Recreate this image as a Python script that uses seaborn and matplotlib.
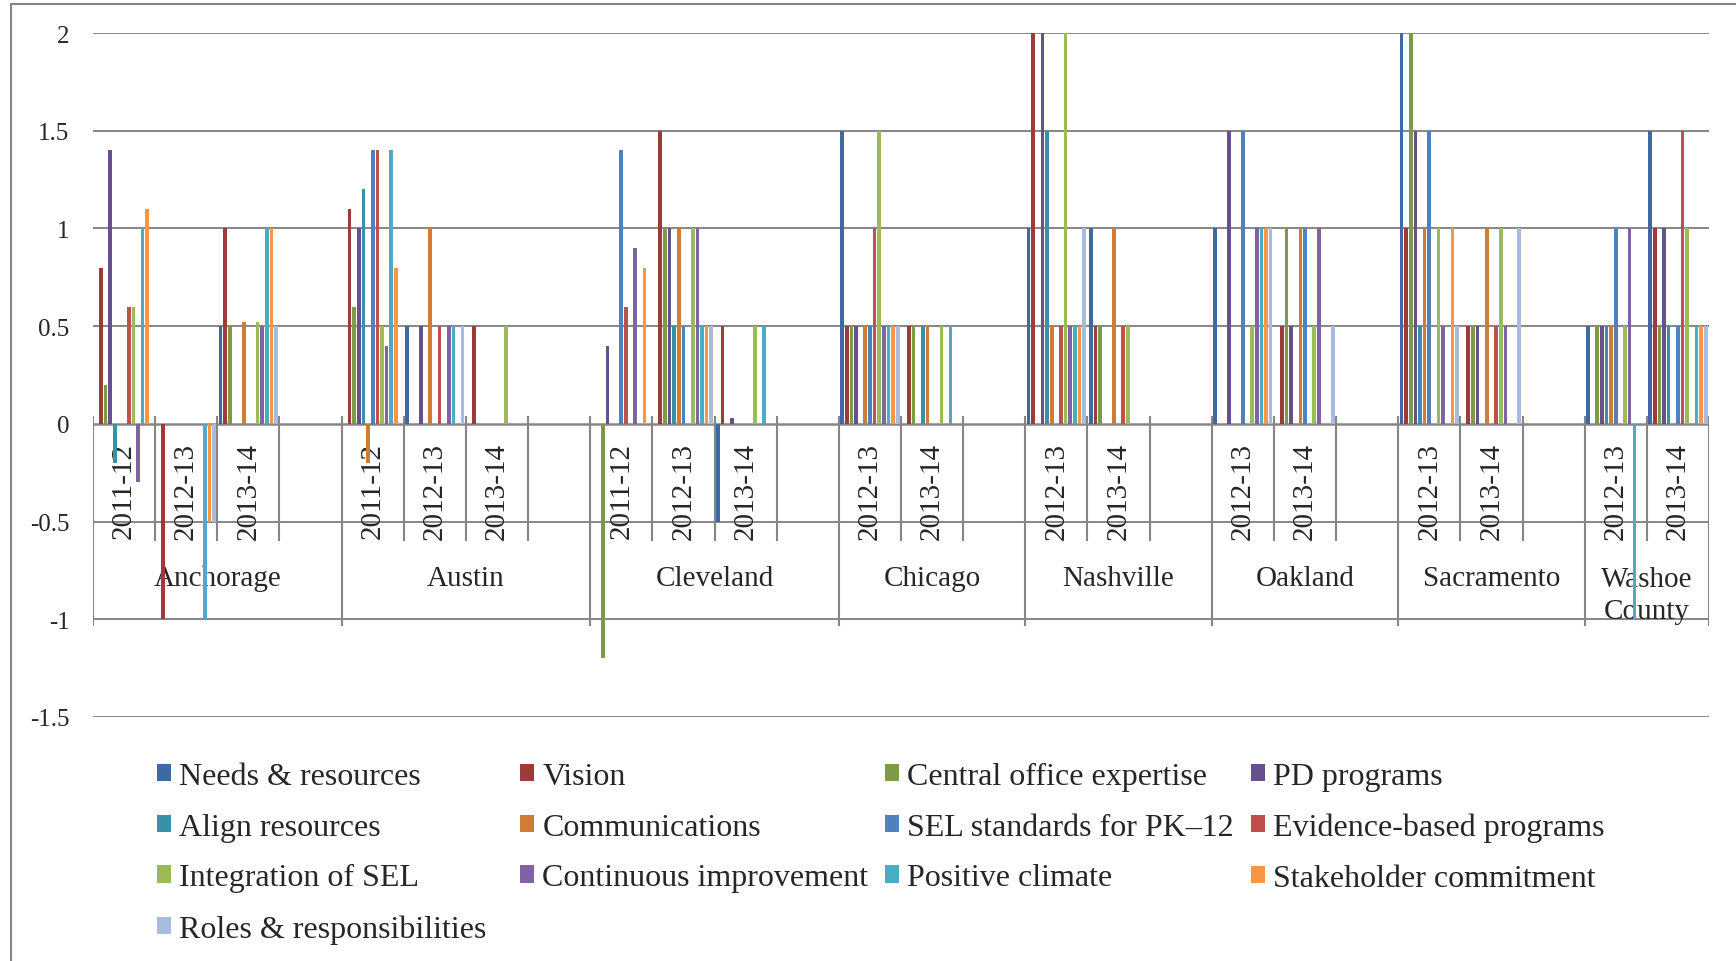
import numpy as np
import pandas as pd
import seaborn as sns
import matplotlib.pyplot as plt
from matplotlib.patches import Patch
from matplotlib.lines import Line2D

nan = np.nan

# ---------------- data ----------------
series = ["Needs & resources", "Vision", "Central office expertise", "PD programs",
          "Align resources", "Communications", "SEL standards for PK\u201312",
          "Evidence-based programs", "Integration of SEL", "Continuous improvement",
          "Positive climate", "Stakeholder commitment", "Roles & responsibilities"]

colors = ["#3E6AA1", "#9C3B39", "#7E9A47", "#67518A", "#3891A8", "#D07C34",
          "#4F81BD", "#C0504D", "#9BBB59", "#8064A2", "#4BACC6", "#F79646",
          "#A9BBDA"]

cities = ["Anchorage", "Austin", "Cleveland", "Chicago", "Nashville",
          "Oakland", "Sacramento", "Washoe\nCounty"]

years = [["2011-12", "2012-13", "2013-14", ""],
         ["2011-12", "2012-13", "2013-14", ""],
         ["2011-12", "2012-13", "2013-14", ""],
         ["2012-13", "2013-14", ""],
         ["2012-13", "2013-14", ""],
         ["2012-13", "2013-14", ""],
         ["2012-13", "2013-14", ""],
         ["2012-13", "2013-14"]]

# one row per year, one value per series (nan = no bar)
anchorage = [[nan, 0.8, 0.2, 1.4, -0.2, nan, nan, 0.6, 0.6, -0.3, 1.0, 1.1, nan],
             [nan, -1.0, nan, nan, nan, nan, nan, nan, nan, nan, -1.0, -0.5, -0.5],
             [0.5, 1.0, 0.5, nan, nan, 0.52, nan, nan, 0.52, 0.5, 1.0, 1.0, 0.5]]
austin = [[nan, 1.1, 0.6, 1.0, 1.2, -0.2, 1.4, 1.4, 0.5, 0.4, 1.4, 0.8, nan],
          [0.5, nan, nan, 0.5, nan, 1.0, nan, 0.5, nan, 0.5, 0.5, nan, 0.5],
          [nan, 0.5, nan, nan, nan, nan, nan, nan, 0.5, nan, nan, nan, nan]]
cleveland = [[nan, nan, -1.2, 0.4, nan, nan, 1.4, 0.6, nan, 0.9, nan, 0.8, nan],
             [nan, 1.5, 1.0, 1.0, 0.5, 1.0, 0.5, nan, 1.0, 1.0, 0.5, 0.5, 0.5],
             [-0.5, 0.5, nan, 0.03, nan, nan, nan, nan, 0.5, nan, 0.5, nan, nan]]
chicago = [[1.5, 0.5, 0.5, 0.5, nan, 0.5, 0.5, 1.0, 1.5, 0.5, 0.5, 0.5, 0.5],
           [nan, 0.5, 0.5, nan, 0.5, 0.5, nan, nan, 0.5, nan, 0.5, nan, nan]]
nashville = [[1.0, 2.0, nan, 2.0, 1.5, 0.5, nan, 0.5, 2.0, 0.5, 0.5, 0.5, 1.0],
             [1.0, 0.5, 0.5, nan, nan, 1.0, nan, 0.5, 0.5, nan, nan, nan, nan]]
oakland = [[1.0, nan, nan, 1.5, nan, nan, 1.5, nan, 0.5, 1.0, 1.0, 1.0, 1.0],
           [nan, 0.5, 1.0, 0.5, nan, 1.0, 1.0, nan, 0.5, 1.0, nan, nan, 0.5]]
sacramento = [[2.0, 1.0, 2.0, 1.5, 0.5, 1.0, 1.5, nan, 1.0, 0.5, nan, 1.0, 0.5],
              [nan, 0.5, 0.5, 0.5, nan, 1.0, nan, 0.5, 1.0, 0.5, nan, nan, 1.0]]
washoe = [[0.5, nan, 0.5, 0.5, 0.5, 0.5, 1.0, nan, 0.5, 1.0, -1.0, nan, nan],
          [1.5, 1.0, 0.5, 1.0, 0.5, nan, 0.5, 1.5, 1.0, nan, 0.5, 0.5, 0.5]]

city_values = [anchorage, austin, cleveland, chicago, nashville,
               oakland, sacramento, washoe]

# ---------------- build long table ----------------
slots = []
rows = []
for city, yrs, vals in zip(cities, years, city_values):
    for j, yr in enumerate(yrs):
        key = f"{city}|{yr}"
        slots.append(key)
        if j < len(vals):
            for s, v in zip(series, vals[j]):
                if not np.isnan(v):
                    rows.append((key, s, v))
df = pd.DataFrame(rows, columns=["slot", "series", "value"])

# ---------------- figure ----------------
sns.set_style("white")
plt.rcParams["font.family"] = ["Liberation Serif", "DejaVu Serif"]
grid_c = "#868686"

fig = plt.figure(figsize=(17.36, 9.62), dpi=100)
ax = fig.add_axes([93 / 1736, 1 - 718 / 962, 1616 / 1736, 684 / 962])

sns.barplot(data=df, x="slot", y="value", hue="series", order=slots,
            hue_order=series, palette=colors, saturation=1, width=0.97,
            gap=0.22, errorbar=None, legend=False, ax=ax, zorder=3,
            linewidth=0)

ax.set_xlim(-0.5, len(slots) - 0.5)
ax.set_ylim(-1.5, 2)
yt = [2, 1.5, 1, 0.5, 0, -0.5, -1, -1.5]
ax.set_yticks(yt)
ax.set_yticklabels(["2", "1.5", "1", "0.5", "0", "-0.5", "-1", "-1.5"], fontsize=18)
ax.tick_params(axis="y", length=0, pad=17)
ax.set_xticks([])
ax.set_xlabel("")
ax.set_ylabel("")
for sp in ax.spines.values():
    sp.set_visible(False)
for y in yt:
    ax.axhline(y, color=grid_c, lw=1.8 if y == 0 else 1.4, zorder=1)

# multi-level category axis
pos = 0
for city, yrs in zip(cities, years):
    n = len(yrs)
    ax.vlines(pos - 0.5, -1.034, 0.04, color=grid_c, lw=1.5, zorder=2)
    for j, yr in enumerate(yrs):
        if j > 0:
            ax.vlines(pos + j - 0.5, -0.6, 0.04, color=grid_c, lw=1.5, zorder=2)
        if yr:
            ax.text(pos + j, -0.092, yr, rotation=90, ha="center", va="top",
                    fontsize=21, zorder=2)
    if "\n" in city:
        ax.text(pos + (n - 1) / 2, -0.878, city, ha="center", va="center",
                fontsize=21, linespacing=1.3, zorder=2)
    else:
        ax.text(pos + (n - 1) / 2, -0.788, city, ha="center", va="center",
                fontsize=21, zorder=2)
    pos += n
ax.vlines(pos - 0.5, -1.034, 0.04, color=grid_c, lw=1.5, zorder=2)

# chart border (top and left edges visible)
fig.add_artist(Line2D([11 / 1736, 1], [1 - 4.5 / 962, 1 - 4.5 / 962],
                      transform=fig.transFigure, color=grid_c, lw=1.5))
fig.add_artist(Line2D([11 / 1736, 11 / 1736], [0, 1 - 4.5 / 962],
                      transform=fig.transFigure, color=grid_c, lw=1.5))

# legend: four columns filled row by row
handles = [Patch(facecolor=c, edgecolor="none") for c in colors]
col_x = [157, 520, 885, 1251]
for c in range(4):
    idx = list(range(c, len(series), 4))
    fig.legend([handles[i] for i in idx], [series[i] for i in idx],
               loc="upper left", bbox_to_anchor=(col_x[c] / 1736, 1 - 763 / 962),
               frameon=False, fontsize=23, handlelength=0.45, handleheight=0.45,
               handletextpad=0.25, labelspacing=0.68, borderpad=0,
               borderaxespad=0)

fig.savefig("out.png", dpi=100)
